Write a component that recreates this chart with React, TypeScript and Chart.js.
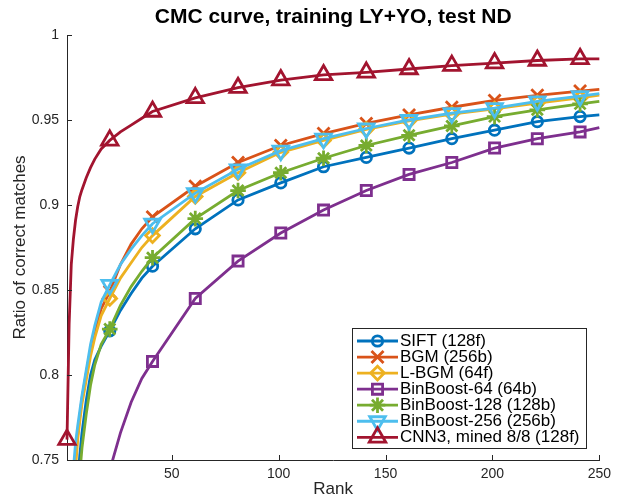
import React, { useEffect, useRef } from 'react';
import { Chart, registerables } from 'chart.js';
import { drawPoint } from 'chart.js/helpers';

Chart.register(...registerables);

// ---------- data ----------
const ranks = [1, 2, 3, 4, 5, 6, 7, 8, 10, 12, 14, 17, 21, 26, 31, 36, 41, 61, 81, 101, 121, 141, 161, 181, 201, 221, 241, 250];
const markerRanks = [1, 21, 41, 61, 81, 101, 121, 141, 161, 181, 201, 221, 241];
const xTicks = [50, 100, 150, 200, 250];
const yTicks = [0.75, 0.8, 0.85, 0.9, 0.95, 1];

const seriesLabels = [
  'SIFT (128f)',
  'BGM (256b)',
  'L-BGM (64f)',
  'BinBoost-64 (64b)',
  'BinBoost-128 (128b)',
  'BinBoost-256 (256b)',
  'CNN3, mined 8/8 (128f)',
];

const siftValues = [0.60, 0.64, 0.67, 0.695, 0.717, 0.737, 0.753, 0.766, 0.785, 0.800, 0.809, 0.817, 0.826, 0.838, 0.848, 0.857, 0.864, 0.886, 0.903, 0.913, 0.9225, 0.928, 0.9335, 0.939, 0.944, 0.949, 0.952, 0.953];
const bgmValues = [0.645, 0.68, 0.705, 0.73, 0.752, 0.765, 0.776, 0.786, 0.801, 0.815, 0.826, 0.839, 0.849, 0.865, 0.877, 0.886, 0.893, 0.911, 0.925, 0.935, 0.942, 0.948, 0.953, 0.9575, 0.9615, 0.9645, 0.967, 0.968];
const lbgmValues = [0.63, 0.665, 0.695, 0.72, 0.745, 0.762, 0.773, 0.783, 0.797, 0.811, 0.822, 0.835, 0.845, 0.857, 0.866, 0.875, 0.882, 0.905, 0.919, 0.931, 0.938, 0.9445, 0.9495, 0.9535, 0.9565, 0.960, 0.963, 0.9647];
const binboost64Values = [0.58, 0.60, 0.615, 0.628, 0.64, 0.65, 0.66, 0.668, 0.684, 0.698, 0.71, 0.726, 0.744, 0.766, 0.784, 0.798, 0.808, 0.845, 0.867, 0.8835, 0.897, 0.9085, 0.918, 0.925, 0.9335, 0.939, 0.943, 0.9455];
const binboost128Values = [0.59, 0.62, 0.65, 0.675, 0.70, 0.722, 0.742, 0.757, 0.777, 0.794, 0.806, 0.818, 0.827, 0.841, 0.852, 0.861, 0.869, 0.892, 0.9085, 0.919, 0.9275, 0.935, 0.941, 0.9465, 0.952, 0.956, 0.9595, 0.961];
const binboost256Values = [0.66, 0.69, 0.715, 0.745, 0.76, 0.77, 0.779, 0.788, 0.803, 0.818, 0.829, 0.843, 0.853, 0.865, 0.874, 0.882, 0.889, 0.907, 0.921, 0.932, 0.939, 0.945, 0.950, 0.954, 0.957, 0.961, 0.964, 0.9655];
const cnn3Values = [0.762, 0.83, 0.865, 0.88, 0.891, 0.899, 0.905, 0.909, 0.916, 0.922, 0.927, 0.933, 0.938, 0.943, 0.947, 0.951, 0.955, 0.963, 0.969, 0.9735, 0.9765, 0.978, 0.980, 0.982, 0.9835, 0.985, 0.986, 0.986];

const seriesValues = [siftValues, bgmValues, lbgmValues, binboost64Values, binboost128Values, binboost256Values, cnn3Values];

// ---------- styles ----------
const FONT = '"Liberation Sans", Arial, Helvetica, sans-serif';
const AXIS = '#262626';
const colors = ['#0072BD', '#D95319', '#EDB120', '#7E2F8E', '#77AC30', '#4DBEEE', '#A2142F'];
const markerStyles = ['circle', 'crossRot', 'rectRot', 'rect', 'star', 'triangle', 'triangle'];
const markerRadii = [5.2, 8.5, 6.8, 7.2, 7.8, 9, 9.5];
const markerRotations = [0, 0, 0, 0, 0, 180, 0];
const LINE_W = 2.8;

const matlabPlugin = {
  id: 'matlabDecor',
  afterDraw(chart: any) {
    const ctx = chart.ctx as CanvasRenderingContext2D;
    const { left, bottom } = chart.chartArea;
    const xs = chart.scales.x;
    const ys = chart.scales.y;
    ctx.save();
    // inward tick marks
    ctx.strokeStyle = AXIS;
    ctx.lineWidth = 1;
    ctx.beginPath();
    for (const v of xTicks) {
      const px = Math.round(xs.getPixelForValue(v)) + 0.5;
      ctx.moveTo(px, bottom);
      ctx.lineTo(px, bottom - 5);
    }
    for (const v of yTicks) {
      const py = Math.round(ys.getPixelForValue(v)) + 0.5;
      ctx.moveTo(left, py);
      ctx.lineTo(left + 5, py);
    }
    ctx.stroke();

    // legend box
    const bx = 352.5, by = 328.5, bw = 234, bh = 120;
    ctx.fillStyle = '#ffffff';
    ctx.fillRect(bx, by, bw, bh);
    ctx.strokeStyle = AXIS;
    ctx.lineWidth = 1;
    ctx.strokeRect(bx, by, bw, bh);

    const datasets = chart.data.datasets;
    ctx.font = '17px ' + FONT;
    ctx.textBaseline = 'middle';
    ctx.textAlign = 'left';
    for (let i = 0; i < datasets.length; i++) {
      const ds = datasets[i];
      const cy = 341 + i * 16.05;
      ctx.strokeStyle = ds.borderColor;
      ctx.lineWidth = LINE_W;
      ctx.beginPath();
      ctx.moveTo(357, cy);
      ctx.lineTo(398, cy);
      ctx.stroke();
      ctx.fillStyle = 'rgba(0,0,0,0)';
      ctx.strokeStyle = ds.borderColor;
      ctx.lineWidth = LINE_W;
      drawPoint(ctx, {
        pointStyle: ds.pointStyle,
        radius: ds.legendRadius,
        rotation: ds.pointRotation,
        borderWidth: LINE_W,
      } as any, 377.5, cy);
      ctx.fillStyle = '#000000';
      ctx.fillText(ds.label, 400, cy + 0.5);
    }
    ctx.restore();
  },
};

export default function App() {
  const ref = useRef<HTMLCanvasElement>(null);

  useEffect(() => {
    if (!ref.current) return;
    const datasets = seriesLabels.map((label, i) => ({
      label,
      data: ranks.map((r, k) => ({ x: r, y: seriesValues[i][k] })),
      borderColor: colors[i],
      backgroundColor: 'rgba(0,0,0,0)',
      borderWidth: LINE_W,
      tension: 0,
      pointStyle: markerStyles[i],
      pointRotation: markerRotations[i],
      legendRadius: markerRadii[i],
      pointRadius: (c: any) => (markerRanks.includes(ranks[c.dataIndex]) ? markerRadii[i] : 0),
      pointHoverRadius: (c: any) => (markerRanks.includes(ranks[c.dataIndex]) ? markerRadii[i] : 0),
      pointBorderWidth: LINE_W,
      pointBorderColor: colors[i],
      pointBackgroundColor: 'rgba(0,0,0,0)',
      order: seriesLabels.length - i,
      clip: { left: 20, right: 6, top: 6, bottom: 0 },
    }));

    const chart = new Chart(ref.current, {
      type: 'line',
      data: { datasets } as any,
      options: {
        animation: false,
        responsive: false,
        devicePixelRatio: 1,
        events: [],
        layout: { padding: { left: 0, right: 14, top: 0, bottom: 0 } },
        plugins: {
          legend: { display: false },
          tooltip: { enabled: false },
          title: {
            display: true,
            text: 'CMC curve, training LY+YO, test ND',
            fullSize: false,
            color: '#000000',
            font: { family: FONT, size: 21, weight: 'bold' },
            padding: { top: 5, bottom: 4.8 },
          },
        },
        scales: {
          x: {
            type: 'linear',
            min: 1,
            max: 250,
            afterBuildTicks: (s: any) => { s.ticks = xTicks.map((v) => ({ value: v })); },
            afterFit: (s: any) => { s.height = 41; },
            grid: { display: false, drawTicks: false },
            border: { display: true, color: AXIS, width: 1 },
            ticks: {
              color: AXIS,
              font: { family: FONT, size: 14 },
              padding: 6,
              maxRotation: 0,
              autoSkip: false,
              callback: (v: any) => String(v),
            },
            title: {
              display: true,
              text: 'Rank',
              color: AXIS,
              font: { family: FONT, size: 17 },
              padding: { top: 0, bottom: 1 },
            },
          },
          y: {
            type: 'linear',
            min: 0.75,
            max: 1,
            afterBuildTicks: (s: any) => { s.ticks = yTicks.map((v) => ({ value: v })); },
            afterFit: (s: any) => { s.width = 67; },
            grid: { display: false, drawTicks: false },
            border: { display: true, color: AXIS, width: 1 },
            ticks: {
              color: AXIS,
              font: { family: FONT, size: 14 },
              padding: 8,
              autoSkip: false,
              callback: (v: any) => String(v),
            },
            title: {
              display: true,
              text: 'Ratio of correct matches',
              color: AXIS,
              font: { family: FONT, size: 17 },
              padding: { top: 10, bottom: 0 },
            },
          },
        },
      } as any,
      plugins: [matlabPlugin],
    });
    return () => chart.destroy();
  }, []);

  return (
    <div style={{ position: 'fixed', left: 0, top: 0, width: 617, height: 501, background: '#ffffff' }}>
      <canvas ref={ref} width={617} height={501} style={{ display: 'block', width: 617, height: 501 }} />
    </div>
  );
}
